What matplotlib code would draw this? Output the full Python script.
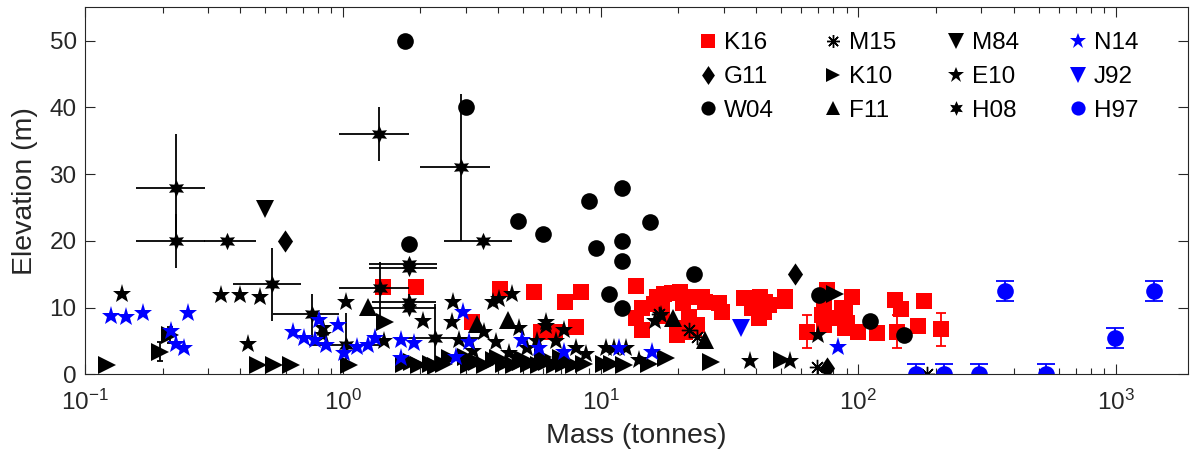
import matplotlib
matplotlib.use("Agg")
import matplotlib.pyplot as plt
from matplotlib.lines import Line2D
import numpy as np

plt.rcParams['font.family'] = ['Liberation Sans', 'DejaVu Sans']
plt.rcParams['mathtext.fontset'] = 'custom'
plt.rcParams['mathtext.rm'] = 'Liberation Sans'
plt.rcParams['mathtext.it'] = 'Liberation Sans'

# ---- data (mass in tonnes, elevation in m) ----
k16_x = [1.43, 1.92, 3.17, 4.08, 5.5, 7.3, 8.4, 8.05, 5.9, 6.65,
         13.7, 16.6, 14.5, 13.7, 14.5, 17.3, 17.3, 16.1, 17.6, 19.0,
         20.4, 22.3, 24.7, 25.5, 28.8, 29.6, 22.0, 23.0, 19.8, 20.8,
         21.3, 19.8, 23.7, 35.9, 39.9, 41.7, 38.7, 42.9, 44.9, 41.0,
         43.6, 52.1, 52.1, 75.5, 73.3, 72.2, 73.3, 81.3, 86.3,
         94.3, 88.9, 100, 118, 89, 90.2, 139, 147, 171, 179]
k16_y = [13.05, 13.05, 7.9, 12.8, 12.4, 10.9, 12.4, 7.15, 6.4, 6.4,
         13.2, 11.6, 9.9, 8.4, 6.65, 10.4, 8.8, 10.6, 12.0, 12.2,
         12.4, 11.6, 11.6, 10.9, 10.7, 9.4, 8.65, 6.65, 5.9, 10.65,
         6.4, 6.9, 7.4, 11.4, 11.0, 11.6, 9.9, 9.4, 10.4, 8.4,
         10.9, 11.6, 11.0, 12.65, 10.65, 8.9, 7.4, 8.4, 9.9,
         11.6, 6.9, 6.4, 6.15, 9.6, 7.65, 11.15, 9.75, 7.25, 11.05]
k16e_x = [63, 141, 210]
k16e_y = [6.4, 6.4, 6.75]
k16e_err = [2.5, 2.5, 2.5]

g11_x = [0.598, 56.6, 75.5]
g11_y = [20.0, 15.0, 0.9]

w04_x = [1.75, 3.0, 4.8, 6.0, 9.0, 12.1, 9.6, 12.1, 12.1, 10.8, 12.1,
         15.5, 23, 70.5, 111, 151, 1.8]
w04_y = [50, 40, 23, 21, 26, 28, 19, 20, 17, 12, 9.9,
         22.9, 15, 11.9, 8.0, 5.9, 19.5]

m15_x = [16.8, 22, 23.7, 69, 184]
m15_y = [9.1, 6.65, 5.65, 1.15, 0.0]

k10_x = [0.122, 0.47, 0.54, 0.63, 1.06, 1.46, 1.72, 1.85, 1.98, 2.2,
         2.48, 3.09, 3.32, 3.57, 3.87, 4.23, 4.62, 4.92, 5.28, 5.77,
         6.2, 6.66, 7.22, 7.9, 8.6, 11.1, 12.3, 15.4, 17.9, 26.7,
         50.5, 81, 2.6, 3.0, 4.0, 5.0, 6.0, 7.0, 2.3, 10.3]
k10_y = [1.4, 1.4, 1.4, 1.4, 1.4, 7.9, 1.5, 1.8, 1.4, 1.6,
         1.5, 1.4, 1.8, 1.4, 2.2, 1.5, 1.4, 1.9, 1.5, 1.4,
         1.8, 1.4, 1.5, 1.4, 1.6, 1.6, 1.4, 1.6, 2.4, 1.9,
         2.2, 12.0, 2.4, 2.6, 2.5, 2.3, 2.6, 2.4, 1.3, 1.6]
k10e_x = [0.195, 0.213]
k10e_y = [3.4, 5.9]
k10e_err = [1.4, 1.2]

f11_x = [1.25, 3.33, 4.38, 19.1, 25.5]
f11_y = [10.1, 7.5, 8.15, 8.4, 5.1]

m84_x = [0.5]
m84_y = [24.8]

e10_x = [0.139, 0.338, 0.398, 0.476, 0.43, 1.03, 0.837, 0.84, 2.04, 2.67,
         2.65, 1.45, 2.83, 3.81, 4.04, 4.53, 3.54, 4.83, 6.16, 6.13,
         7.22, 8.0, 10.5, 11.3, 12.5, 8.75, 5.69, 6.7, 3.92, 14.1,
         16.3, 17.1, 70, 38.1, 54.5, 3.2, 4.4, 5.2]
e10_y = [12.0, 11.9, 11.9, 11.6, 4.55, 10.9, 6.9, 5.9, 8.0, 10.9,
         7.9, 5.0, 5.1, 10.9, 11.3, 12.1, 6.4, 6.9, 7.9, 7.2,
         6.6, 3.9, 3.9, 3.9, 3.9, 3.1, 5.0, 5.0, 4.9, 2.15,
         8.0, 8.9, 5.9, 2.05, 2.05, 3.5, 3.2, 4.0]

h08_x = [0.225, 0.225, 0.354, 0.531, 0.759, 1.03, 1.38, 1.39, 1.80, 1.80,
         1.80, 1.80, 2.28, 2.87, 3.5]
h08_y = [28, 20, 20, 13.5, 9.0, 4.4, 36, 13.0, 16.6, 15.9,
         10.9, 9.9, 5.5, 31, 20]
h08_xlo = [0.157, 0.157, 0.29, 0.375, 0.536, 0.74, 0.97, 0.97, 1.26, 1.26,
           1.30, 1.30, 1.59, 2.0, 2.46]
h08_xhi = [0.291, 0.291, 0.46, 0.686, 0.97, 1.39, 1.80, 1.81, 2.33, 2.33,
           2.30, 2.30, 3.38, 3.73, 4.55]
h08_ylo = [20, 16, 20, 8, 4.5, 0.7, 32, 8.2, 16.6, 15.9,
           9.0, 9.9, 0.5, 20, 20]
h08_yhi = [36, 24, 20, 19, 12, 9.2, 40, 16.9, 16.6, 15.9,
           10.9, 12.0, 10.5, 42, 20]

n14_x = [0.126, 0.144, 0.168, 0.251, 0.215, 0.226, 0.242, 0.64, 0.71, 0.777,
         0.862, 0.81, 0.956, 1.01, 1.14, 1.25, 1.33, 1.68, 1.68, 1.89,
         2.92, 2.75, 3.1, 4.97, 5.77, 7.21, 11.8, 15.9, 83.7]
n14_y = [8.75, 8.65, 9.15, 9.15, 6.55, 4.55, 3.9, 6.4, 5.4, 5.15,
         4.4, 8.15, 7.4, 3.15, 4.15, 4.4, 5.4, 2.4, 5.15, 4.65,
         9.4, 2.65, 4.9, 5.15, 3.9, 3.4, 3.9, 3.4, 4.15]

j92_x = [34.9]
j92_y = [6.9]

h97_x = [168, 215, 294, 536, 370, 993, 1400]
h97_y = [0, 0, 0, 0, 12.5, 5.5, 12.5]
h97_err = [1.5, 1.5, 1.5, 1.5, 1.5, 1.5, 1.5]

labels = ['K16', 'G11', 'W04', 'M15', 'K10', 'F11', 'M84', 'E10', 'H08', 'N14', 'J92', 'H97']

# marker styles
red = '#ff0000'
blue = '#0000ff'
diamond = [(0, 1), (0.68, 0), (0, -1), (-0.68, 0), (0, 1)]
styles = {
    'K16': dict(marker='s', color=red, ms=11.5),
    'G11': dict(marker=diamond, color='k', ms=16),
    'W04': dict(marker='o', color='k', ms=12),
    'M15': dict(marker=(8, 2, 0), color='k', ms=11, mew=1.0),
    'K10': dict(marker='>', color='k', ms=12.5),
    'F11': dict(marker='^', color='k', ms=12.5),
    'M84': dict(marker='v', color='k', ms=13),
    'E10': dict(marker='*', color='k', ms=14),
    'H08': dict(marker=(6, 1, 0), color='k', ms=12.5),
    'N14': dict(marker='*', color=blue, ms=14),
    'J92': dict(marker='v', color=blue, ms=13),
    'H97': dict(marker='o', color=blue, ms=12),
}

fig = plt.figure(figsize=(11.9, 4.66), dpi=100)
ax = fig.add_axes([85 / 1190, 91.6 / 466, 1103 / 1190, 367.1 / 466])


def pts(name, x, y):
    s = styles[name]
    ax.plot(x, y, linestyle='none', marker=s['marker'], color=s['color'],
            markersize=s['ms'], markeredgewidth=s.get('mew', 0))


def ebars(x, y, err, color, cap):
    ax.errorbar(x, y, yerr=err, fmt='none', ecolor=color, elinewidth=1.3,
                capsize=cap, capthick=1.3)


pts('K16', k16_x, k16_y)
ebars(k16e_x, k16e_y, k16e_err, red, 3.8)
pts('K16', k16e_x, k16e_y)
pts('G11', g11_x, g11_y)
pts('W04', w04_x, w04_y)
pts('M15', m15_x, m15_y)
ebars(k10e_x, k10e_y, k10e_err, 'k', 2.2)
pts('K10', k10_x + k10e_x, k10_y + k10e_y)
pts('F11', f11_x, f11_y)
pts('M84', m84_x, m84_y)
pts('E10', e10_x, e10_y)

hx = np.array(h08_x)
hy = np.array(h08_y)
xerr = [hx - np.array(h08_xlo), np.array(h08_xhi) - hx]
yerr = [hy - np.array(h08_ylo), np.array(h08_yhi) - hy]
ax.errorbar(hx, hy, xerr=xerr, yerr=yerr, fmt='none', ecolor='k',
            elinewidth=1.3, capsize=0)
pts('H08', h08_x, h08_y)

pts('N14', n14_x, n14_y)
pts('J92', j92_x, j92_y)
ebars(h97_x, h97_y, h97_err, blue, 6.2)
pts('H97', h97_x, h97_y)

ax.set_xscale('log')
ax.set_xlim(0.1, 1900)
ax.set_ylim(0, 55)
ax.set_yticks([0, 10, 20, 30, 40, 50])

tc = '#262626'
ax.tick_params(which='both', direction='in', top=True, right=True,
               colors=tc, labelsize=17.5, width=0.8)
ax.tick_params(which='major', length=7)
ax.tick_params(which='minor', length=4)
ax.tick_params(axis='x', which='major', pad=11)
ax.tick_params(axis='y', which='major', pad=6)
for sp in ax.spines.values():
    sp.set_color(tc)
    sp.set_linewidth(0.8)

ax.set_xlabel('Mass (tonnes)', fontsize=20.5, color=tc, labelpad=6)
ax.set_ylabel('Elevation (m)', fontsize=20.5, color=tc, labelpad=8)

handles = []
for name in labels:
    s = styles[name]
    handles.append(Line2D([], [], linestyle='none', marker=s['marker'],
                          color=s['color'], markersize=s['ms'] * 0.85,
                          markeredgewidth=s.get('mew', 0)))
leg = ax.legend(handles, labels, ncol=4, frameon=False, loc='upper left',
                bbox_to_anchor=(0.547, 0.958), fontsize=17.5, handlelength=0.8,
                handletextpad=0.25, columnspacing=2.05, labelspacing=0.48,
                borderaxespad=0)

fig.savefig('out.png', dpi=100)
